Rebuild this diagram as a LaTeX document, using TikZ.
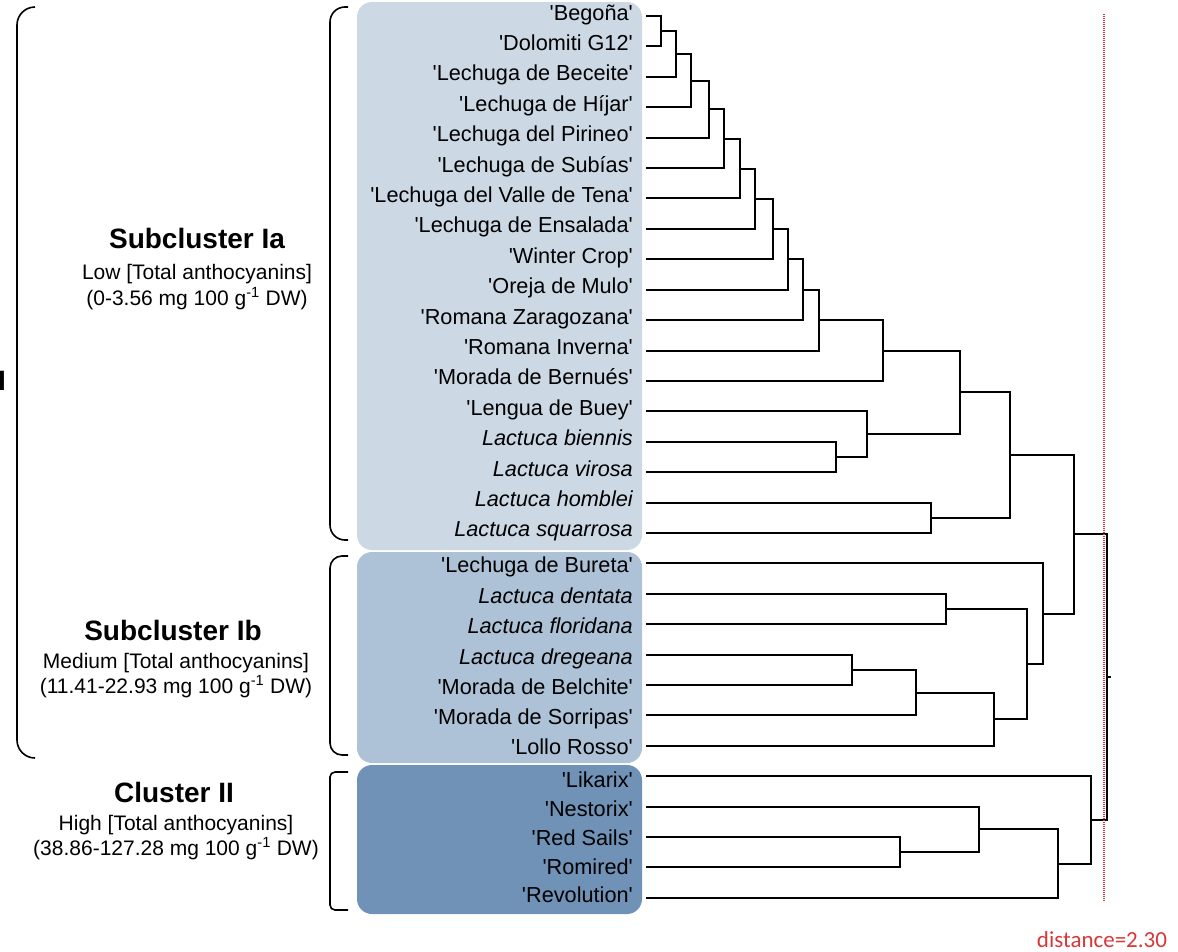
\documentclass[tikz,border=0pt]{standalone}
\usepackage{fontspec}
\setmainfont{Liberation Sans}
\newfontfamily\distfont{Carlito}
\usepackage{tikz}
\usetikzlibrary{calc}
\definecolor{boxIa}{RGB}{205,216,229}
\definecolor{boxIb}{RGB}{173,194,215}
\definecolor{boxII}{RGB}{112,146,183}
\definecolor{cutred}{RGB}{215,55,55}
\newcommand{\cultivar}[1]{\textquotesingle#1\textquotesingle}
\tikzset{
  taxon/.style={anchor=base east, inner sep=0pt, font=\fontsize{21.7}{26}\selectfont},
  branch/.style={draw, line width=2pt},
  groupbox/.style={draw=none, rounded corners=15pt},
  clusterbrace/.style={draw, line width=1.6pt},
  cluster title/.style={anchor=base, inner sep=0pt, font=\fontsize{28}{32}\selectfont\bfseries},
  cluster note/.style={anchor=base, inner sep=0pt, font=\fontsize{21}{25}\selectfont},
}

\begin{document}
\begin{tikzpicture}[x=1pt, y=-1pt]
  \useasboundingbox (0,0) rectangle (1178,951);

  % shaded groups behind the labels
  \fill[groupbox, boxIa] (357,2) rectangle (642,550);
  \fill[groupbox, boxIb] (357,552) rectangle (642,763);
  \fill[groupbox, boxII] (357,765) rectangle (642,914);

  % leaves: label / baseline below the leaf line
  \foreach \name/\dy [count=\i] in {
      \cultivar{Begoña}/4, \cultivar{Dolomiti G12}/4, \cultivar{Lechuga de Beceite}/4,
      \cultivar{Lechuga de Híjar}/4, \cultivar{Lechuga del Pirineo}/4, \cultivar{Lechuga de Subías}/4,
      \cultivar{Lechuga del Valle de Tena}/4, \cultivar{Lechuga de Ensalada}/4,
      \cultivar{Winter Crop}\hspace{8pt}/4, \cultivar{Oreja de Mulo}/4, \cultivar{Romana Zaragozana}/4,
      \cultivar{Romana Inverna}/4, \cultivar{Morada de Bernués}/4, \cultivar{Lengua de Buey}/4,
      {\itshape Lactuca biennis}/4, {\itshape Lactuca virosa}/4, {\itshape Lactuca homblei}\hspace{6pt}/4,
      {\itshape Lactuca squarrosa}/4, \cultivar{Lechuga de Bureta}/9.5, {\itshape Lactuca dentata}/9.5,
      {\itshape Lactuca floridana}/9.5, {\itshape Lactuca dregeana}/9.5, \cultivar{Morada de Belchite}/9.5,
      \cultivar{Morada de Sorripas}/9.5, \cultivar{Lollo Rosso}/9, \cultivar{Likarix}\hspace{5pt}/11,
      \cultivar{Nestorix}\hspace{5pt}/9.6, \cultivar{Red Sails}/8.2, \cultivar{Romired}\hspace{4pt}/6.7,
      \cultivar{Revolution}\hspace{4pt}/5} {
    \coordinate (l\i) at (646,{16+30.41*(\i-1)});
    \node[taxon] (t\i) at (633,{16+30.41*(\i-1)+\dy}) {\name};
  }

  % merges: name / height / first child / second child
  \foreach \m/\x/\a/\b in {
      m1/661/l1/l2, m2/676/m1/l3, m3/691/m2/l4, m4/709/m3/l5, m5/724/m4/l6,
      m6/740/m5/l7, m7/755/m6/l8, m8/773/m7/l9, m9/788/m8/l10, m10/803/m9/l11,
      m11/819/m10/l12, m12/883/m11/l13, m13/836/l15/l16, m14/867/l14/m13,
      m15/931/l17/l18, m16/960/m12/m14, m17/1010/m16/m15,
      mA/946/l20/l21, mB/852/l22/l23, mC/916/mB/l24, mD/994/mC/l25,
      mE/1027/mA/mD, mF/1043/l19/mE, m18/1074/m17/mF,
      mG/900/l28/l29, mH/979/l27/mG, mI/1058/mH/l30, mJ/1091/l26/mI,
      root/1107/m18/mJ} {
    \path ($(\a)!0.5!(\b)$) coordinate (mid);
    \coordinate (\m) at (\x,0 |- mid);
    \draw[branch] (\a) -| (\m) |- (\b);
  }
  \draw[branch] (root) -- ++(4,0);

  % cut-off line
  \coordinate (cut top) at (1104,14);
  \coordinate (cut bottom) at (1104,902);
  \draw[cutred, line width=1.4pt, dash pattern=on 1pt off 1pt] (cut top) -- (cut bottom);
  \node[anchor=base, inner sep=0pt, text=cutred, font=\distfont\fontsize{23}{27}\selectfont]
    (dist) at (1102,947) {distance=2.30};

  % brackets
  \draw[clusterbrace, rounded corners=18pt] (35,7) -- (17,7) -- (17,758) -- (35,758);
  \draw[clusterbrace, rounded corners=15pt] (348,7) -- (330,7) -- (330,540) -- (348,540);
  \draw[clusterbrace, rounded corners=12pt] (348,556) -- (330,556) -- (330,755) -- (348,755);
  \draw[clusterbrace, rounded corners=5pt] (348,772) -- (330,772) -- (330,910) -- (348,910);

  % cluster labels
  \node[cluster title, anchor=base east] (I) at (6,390) {I};
  \node[cluster title] (Ia) at (197,248) {Subcluster Ia};
  \node[cluster note] (Ia low) at (197,279) {Low [Total anthocyanins]};
  \node[cluster note] (Ia range) at (197,305) {(0-3.56 mg 100 g\textsuperscript{-1} DW)};
  \node[cluster title] (Ib) at (173,640) {Subcluster Ib};
  \node[cluster note] (Ib medium) at (176,668) {Medium [Total anthocyanins]};
  \node[cluster note] (Ib range) at (176,693) {(11.41-22.93 mg 100 g\textsuperscript{-1} DW)};
  \node[cluster title] (II) at (174,802) {Cluster II};
  \node[cluster note] (II high) at (176,830) {High [Total anthocyanins]};
  \node[cluster note] (II range) at (176,855) {(38.86-127.28 mg 100 g\textsuperscript{-1} DW)};
\end{tikzpicture}
\end{document}
